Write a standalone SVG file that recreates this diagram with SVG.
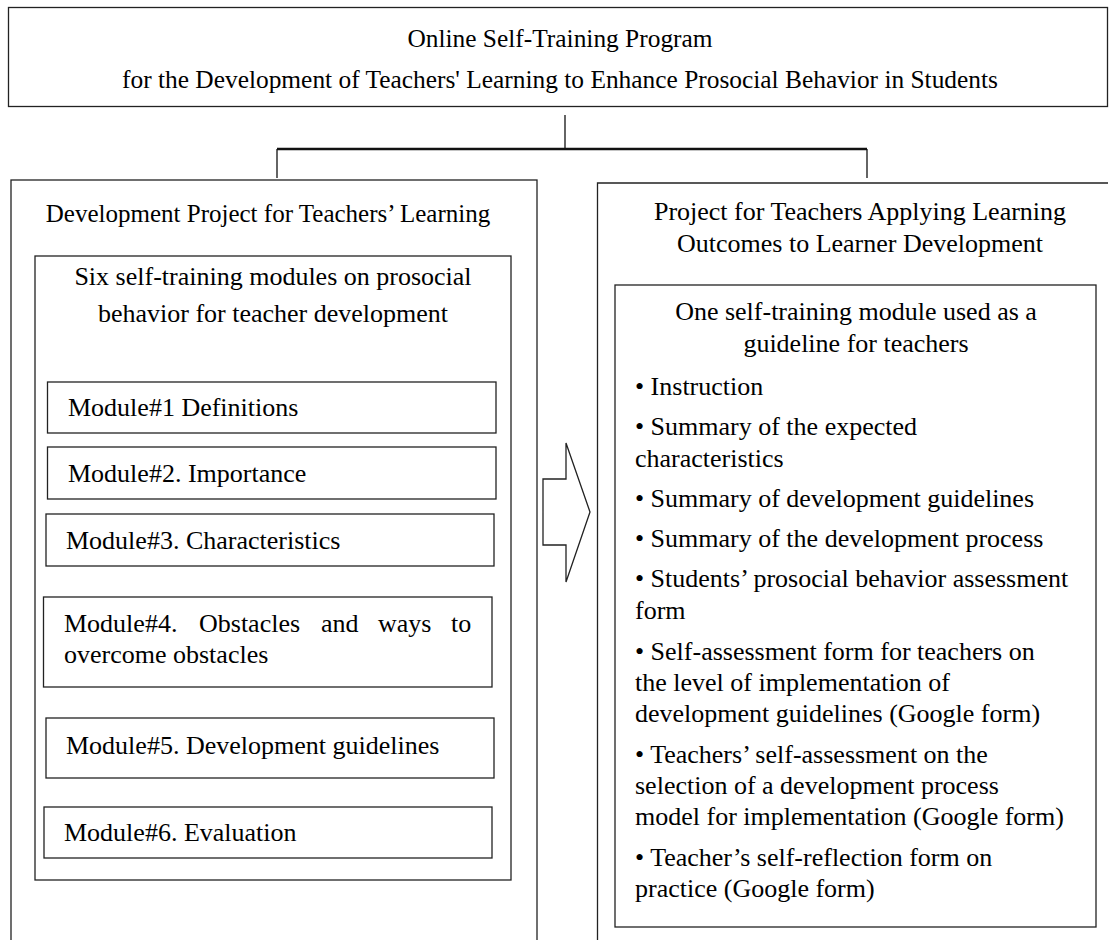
<svg xmlns="http://www.w3.org/2000/svg" width="1110" height="940" viewBox="0 0 1110 940">
<style>
text{font-family:"Liberation Serif","Times New Roman",serif;font-size:26px;fill:#000}
.t{font-size:25px}
.h{font-size:25.4px}
.c{text-anchor:middle}
.box{fill:none;stroke:#222;stroke-width:1.3}
.ln{fill:none;stroke:#111;stroke-width:1.3}
.thick{fill:none;stroke:#111;stroke-width:2.6}
</style>
<rect width="1110" height="940" fill="#fff"/>
<g id="connectors">
<line class="ln" x1="565" y1="115" x2="565" y2="149"/>
<line class="thick" x1="277" y1="149" x2="867" y2="149"/>
<line class="ln" x1="277" y1="149" x2="277" y2="178"/>
<line class="ln" x1="867" y1="149" x2="867" y2="178"/>
<polygon class="box" points="543,479 566,479 566,443 590,512 566,582 566,545 543,545"/>
</g>
<g id="program">
<rect class="box" x="8.5" y="7.5" width="1099" height="99"/>
<text class="h c" x="560" y="47">Online Self-Training Program</text>
<text class="h c" x="560" y="88">for the Development of Teachers' Learning to Enhance Prosocial Behavior in Students</text>
</g>
<g id="left-project">
<rect class="box" x="11" y="180" width="526" height="780"/>
<text class="t c" x="268" y="222">Development Project for Teachers’ Learning</text>
</g>
<g id="six-modules">
<rect class="box" x="35" y="256" width="476" height="624"/>
<text class="c" x="273" y="285">Six self-training modules on prosocial</text>
<text class="c" x="273" y="322">behavior for teacher development</text>
</g>
<g id="module1">
<rect class="box" x="47.5" y="382" width="448.5" height="51"/>
<text x="68" y="416">Module#1 Definitions</text>
</g>
<g id="module2">
<rect class="box" x="47.5" y="447" width="448.5" height="52"/>
<text x="68" y="482">Module#2. Importance</text>
</g>
<g id="module3">
<rect class="box" x="46" y="514" width="448" height="52"/>
<text x="66" y="549">Module#3. Characteristics</text>
</g>
<g id="module4">
<rect class="box" x="43.5" y="597" width="448.5" height="90"/>
<text y="632"><tspan x="64">Module#4.</tspan><tspan x="199">Obstacles</tspan><tspan x="321">and</tspan><tspan x="378">ways</tspan><tspan x="451">to</tspan></text>
<text x="64" y="663">overcome obstacles</text>
</g>
<g id="module5">
<rect class="box" x="46" y="718" width="448" height="60"/>
<text x="66" y="754">Module#5. Development guidelines</text>
</g>
<g id="module6">
<rect class="box" x="44" y="807" width="448" height="51"/>
<text x="64" y="841">Module#6. Evaluation</text>
</g>
<g id="right-project">
<path class="box" d="M1108,183 H597.5 V945"/>
<text class="c" x="860" y="220">Project for Teachers Applying Learning</text>
<text class="c" x="860" y="252">Outcomes to Learner Development</text>
</g>
<g id="one-module">
<rect class="box" x="615" y="285" width="481" height="642"/>
<text class="c" x="856" y="320">One self-training module used as a</text>
<text class="c" x="856" y="352">guideline for teachers</text>
<text x="635" y="395">• Instruction</text>
<text x="635" y="435">• Summary of the expected</text>
<text x="635" y="467">characteristics</text>
<text x="635" y="507">• Summary of development guidelines</text>
<text x="635" y="547">• Summary of the development process</text>
<text x="635" y="587">• Students’ prosocial behavior assessment</text>
<text x="635" y="619">form</text>
<text x="635" y="660">• Self-assessment form for teachers on</text>
<text x="635" y="691">the level of implementation of</text>
<text x="635" y="722">development guidelines (Google form)</text>
<text x="635" y="763">• Teachers’ self-assessment on the</text>
<text x="635" y="794">selection of a development process</text>
<text x="635" y="825">model for implementation (Google form)</text>
<text x="635" y="866">• Teacher’s self-reflection form on</text>
<text x="635" y="897">practice (Google form)</text>
</g>
</svg>
